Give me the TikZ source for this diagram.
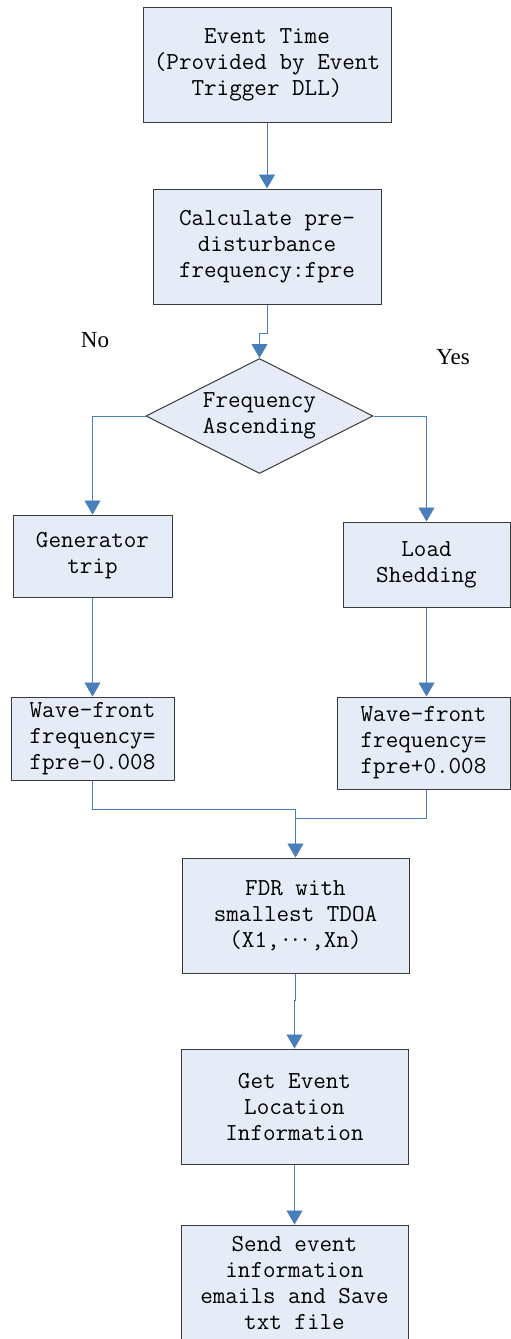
\documentclass[tikz,border=0pt]{standalone}
\usepackage{fontspec}
\newfontfamily\labelfont{Liberation Serif}
\usetikzlibrary{shapes.geometric,arrows.meta}
\definecolor{boxfill}{HTML}{E6ECF7}
\definecolor{boxline}{HTML}{3A3A3A}
\definecolor{flow}{HTML}{4A7EBB}
\begin{document}
\begin{tikzpicture}[x=1pt,y=-1pt,
  stepbox/.style={draw=boxline,line width=1pt,fill=boxfill,rectangle,inner sep=0pt,
    align=center,font=\ttfamily\fontsize{24.4}{26}\selectfont},
  decision/.style={draw=boxline,line width=1pt,fill=boxfill,diamond,aspect=1.97,inner sep=0pt,
    minimum width=227pt,minimum height=115pt,align=center,font=\ttfamily\fontsize{24.4}{26}\selectfont},
  flowline/.style={draw=flow,line width=0.9pt},
  flowarrow/.style={flowline,-{Triangle[width=16pt,length=14pt]}},
  branchlabel/.style={font=\labelfont\fontsize{23}{26}\selectfont,inner sep=0pt}]
\useasboundingbox (0,0) rectangle (511,1339);

\node[stepbox,minimum width=248pt,minimum height=115pt] (evt) at (267,64.5)
  {Event Time\\(Provided by Event\\Trigger DLL)};
\node[stepbox,minimum width=228pt,minimum height=115pt] (calc) at (267,246.5)
  {Calculate pre-\\disturbance\\frequency:fpre};
\node[decision] (asc) at (259.5,416) {Frequency\\Ascending};
\node[stepbox,minimum width=159pt,minimum height=82pt] (gen) at (92.5,556)
  {Generator\\trip};
\node[stepbox,minimum width=167pt,minimum height=85pt] (load) at (426.5,564.5)
  {Load\\Shedding};
\node[stepbox,minimum width=163pt,minimum height=83pt] (wfl) at (92.5,738.5)
  {Wave-front\\frequency=\\fpre-0.008};
\node[stepbox,minimum width=173pt,minimum height=92pt] (wfr) at (423.5,743)
  {Wave-front\\frequency=\\fpre+0.008};
\node[stepbox,minimum width=227pt,minimum height=115pt] (fdr) at (295.5,915.5)
  {FDR with\\smallest TDOA\\(X1,\textperiodcentered\kern-3pt\textperiodcentered\kern-3pt\textperiodcentered,Xn)};
\node[stepbox,minimum width=227pt,minimum height=115pt] (loc) at (294.5,1106.5)
  {Get Event\\Location\\Information};
\node[stepbox,minimum width=227pt,minimum height=115pt] (send) at (294.5,1282.5)
  {Send event\\information\\emails and Save\\txt file};

\node[branchlabel] (no) at (95,340) {No};
\node[branchlabel] (yes) at (453,357) {Yes};

\coordinate (jog1) at (267,333);
\coordinate (jog2) at (259.5,333);
\coordinate (mergeL) at (92.5,809);
\coordinate (mergeM) at (295.5,809);
\coordinate (mergeR) at (426.5,818);
\coordinate (mergeJ) at (295.5,818);
\coordinate (jog3) at (295.5,1000);
\coordinate (jog4) at (294.5,1000);

\draw[flowarrow] (evt.south) -- (calc.north);
\draw[flowarrow] (calc.south) -- (jog1) -- (jog2) -- (asc.north);
\draw[flowarrow] (asc.west) -| (gen.north);
\draw[flowarrow] (asc.east) -| (load.north);
\draw[flowarrow] (gen.south) -- (wfl.north);
\draw[flowarrow] (load.south) -- (load.south |- wfr.north);
\draw[flowarrow] (wfl.south) -- (mergeL) -- (mergeM) -- (fdr.north);
\draw[flowline] (wfr.south -| mergeR) -- (mergeR) -- (mergeJ);
\draw[flowarrow] (fdr.south) -- (jog3) -- (jog4) -- (loc.north);
\draw[flowarrow] (loc.south) -- (send.north);
\end{tikzpicture}
\end{document}
